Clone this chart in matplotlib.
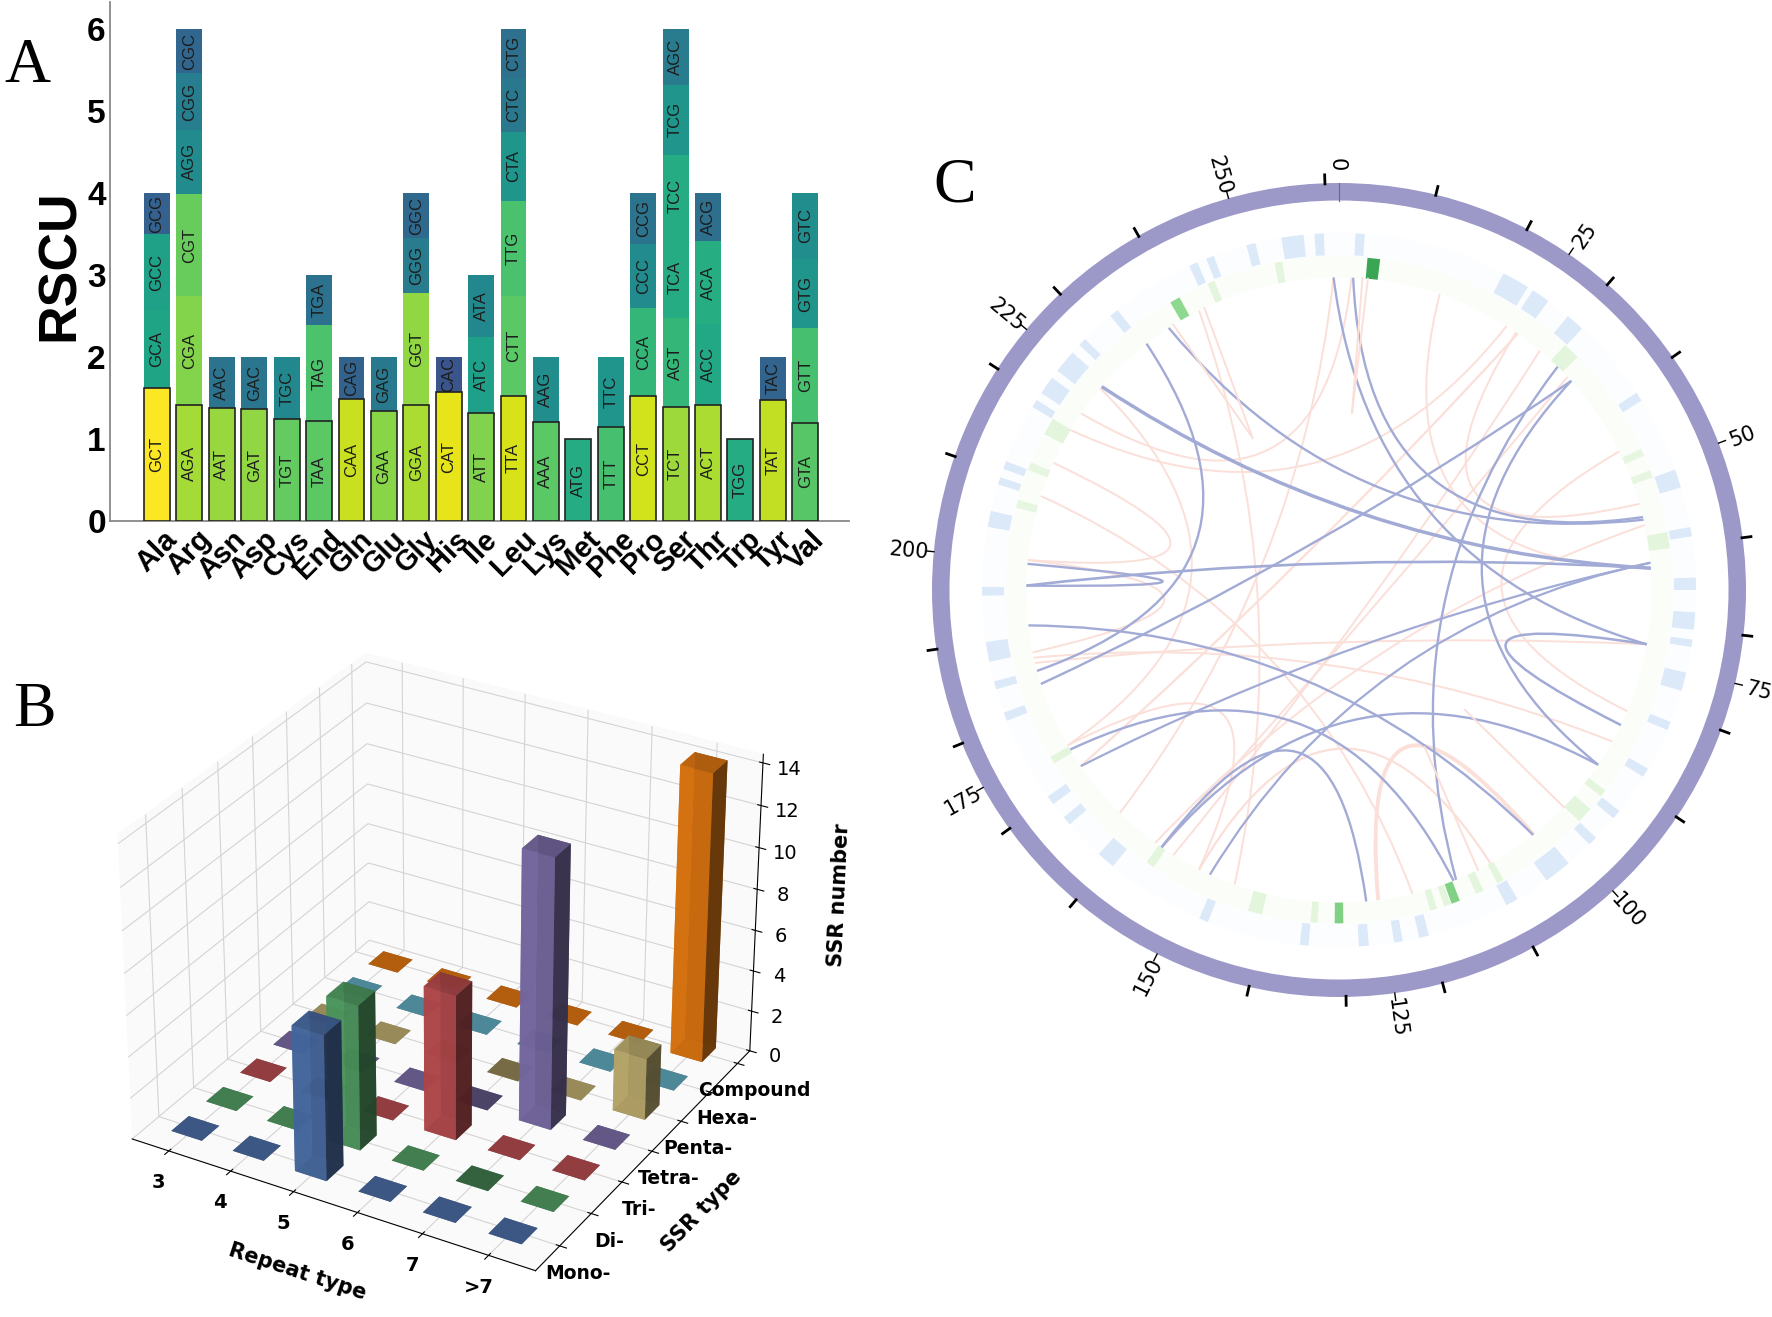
import numpy as np
import matplotlib
matplotlib.use("Agg")
import matplotlib.pyplot as plt
from matplotlib.patches import Wedge, PathPatch
from matplotlib.path import Path

W, H = 1772, 1317

# panel A: RSCU per amino acid, bottom segment first
amino = ["Ala", "Arg", "Asn", "Asp", "Cys", "End", "Gln", "Glu", "Gly", "His", "Ile",
         "Leu", "Lys", "Met", "Phe", "Pro", "Ser", "Thr", "Trp", "Tyr", "Val"]
codons = [["GCT", "GCA", "GCC", "GCG"],
          ["AGA", "CGA", "CGT", "AGG", "CGG", "CGC"],
          ["AAT", "AAC"], ["GAT", "GAC"], ["TGT", "TGC"],
          ["TAA", "TAG", "TGA"], ["CAA", "CAG"], ["GAA", "GAG"],
          ["GGA", "GGT", "GGG", "GGC"], ["CAT", "CAC"], ["ATT", "ATC", "ATA"],
          ["TTA", "CTT", "TTG", "CTA", "CTC", "CTG"], ["AAA", "AAG"], ["ATG"],
          ["TTT", "TTC"], ["CCT", "CCA", "CCC", "CCG"],
          ["TCT", "AGT", "TCA", "TCC", "TCG", "AGC"],
          ["ACT", "ACC", "ACA", "ACG"], ["TGG"], ["TAT", "TAC"],
          ["GTA", "GTT", "GTG", "GTC"]]
rscu = [[1.62, 0.95, 0.93, 0.50],
        [1.41, 1.33, 1.25, 0.78, 0.69, 0.54],
        [1.38, 0.62], [1.36, 0.64], [1.24, 0.76],
        [1.22, 1.17, 0.61], [1.49, 0.51], [1.34, 0.66],
        [1.42, 1.36, 0.67, 0.55], [1.57, 0.43], [1.32, 0.92, 0.76],
        [1.53, 1.21, 1.16, 0.85, 0.65, 0.60], [1.21, 0.79], [1.0],
        [1.15, 0.85], [1.52, 1.08, 0.78, 0.62],
        [1.39, 1.08, 1.00, 1.00, 0.85, 0.68],
        [1.42, 0.98, 1.01, 0.59], [1.0], [1.48, 0.52],
        [1.20, 1.15, 0.85, 0.80]]

# panel B: SSR counts, one row per SSR type
repeat_types = ["3", "4", "5", "6", "7", ">7"]
ssr_types = ["Mono-", "Di-", "Tri-", "Tetra-", "Penta-", "Hexa-", "Compound"]
ssr_colors = ["#4c72b0", "#55a868", "#c44e52", "#8172b2", "#ccb974", "#64b5cd", "#f07c0c"]
ssr_mono = [0, 0, 7, 0, 0, 0]
ssr_di = [0, 0, 7, 0, 0, 0]
ssr_tri = [0, 0, 0, 7, 0, 0]
ssr_tetra = [0, 0, 0, 0, 13, 0]
ssr_penta = [0, 0, 0, 0, 0, 3]
ssr_hexa = [0, 0, 0, 0, 0, 0]
ssr_compound = [0, 0, 0, 0, 0, 14]

# panel C: all angles in degrees clockwise from the top
deg_per_unit = 1.377
minor_ticks = [10, 20, 30, 40, 60, 70, 80, 90, 110, 120, 130, 140, 160, 170, 180, 190, 210, 220, 230, 240, 260]
major_ticks = [0, 25, 50, 75, 100, 125, 150, 175, 200, 225, 250]

blue_band_at = [3.4, 29.7, 34.4, 41.4, 57.2, 71.8, 80.6, 89, 95, 98.6, 104.9, 112.4, 120.8, 129, 134.7,
                142.2, 151, 166.2, 170.4, 176, 185.6, 202.3, 220.8, 229.7, 233.9, 249.2, 254.5, 260,
                269.8, 281.5, 287.8, 290.5, 301.5, 305, 309.8, 314, 320.9, 335.9, 338.8, 345.7, 352.5, 356.8]
blue_band_w = [1.5, 4.5, 3, 3, 1.5, 3, 1.5, 2, 2.8, 1.2, 3, 1.4, 1.5, 1.5, 1.5,
               4.5, 2, 1.6, 1.4, 1.6, 1.4, 1.5, 3, 1.5, 1.5, 1.4, 1.3, 3.2,
               1.4, 2.6, 1.2, 1.3, 1.3, 3, 3.8, 1.3, 1.5, 1.4, 1.3, 1.5, 3.6, 1.5]

green_band_at = [6, 349.5, 337.4, 330.5, 299.4, 291.8, 285, 239.3, 214.5, 194.6, 184.3, 180,
                 163.5, 161, 159.5, 155, 151, 132.5, 127.6, 81.4, 69.6, 65.6, 44.2]
green_band_w = [2.2, 1.3, 1.3, 1.8, 3, 1.4, 1.4, 1.3, 1.5, 2.5, 1.2, 1.5,
                1.2, 1.2, 1.5, 1.4, 1.2, 2.8, 1.3, 2.8, 1.3, 1.3, 3]
green_band_col = ["#3aa655", "#e3f5dc", "#e3f5dc", "#8ed88f", "#e3f5dc", "#e6f6e0", "#e6f6e0", "#e3f5dc",
                  "#e3f5dc", "#e3f5dc", "#e3f5dc", "#80d085", "#e3f5dc", "#e3f5dc", "#80d085", "#e3f5dc",
                  "#e3f5dc", "#e3f5dc", "#e3f5dc", "#e3f5dc", "#e6f6e0", "#e6f6e0", "#e3f5dc"]

# link ends and line widths
blue_a = [359, 2.6, 327, 310.6, 322, 48, 44.4, 48, 85, 86, 274.8, 263.5, 239.3, 214.6, 85, 100, 214.6]
blue_b = [100, 76.5, 77, 86, 255, 252.5, 158, 124, 235.7, 270.8, 270.8, 141.6, 158.5, 124, 204.4, 115.6, 175]
blue_lw = [1.7, 1.7, 1.7, 2.5, 1.7, 1.7, 1.7, 1.7, 1.6, 1.9, 1.7, 1.7, 1.7, 1.7, 1.6, 1.8, 1.7]

pink_a = [304.4, 300.8, 333.4, 310.2, 294, 275.5, 257.5, 256.5, 240.2, 235.7, 224.5, 214.5, 206.6,
          172.8, 287.5, 18.8, 63.7, 74, 78, 212]
pink_b = [2.3, 32.4, 199.5, 240.2, 275.5, 258.5, 119, 100, 206.6, 34.9, 359, 47, 151,
          141.5, 166.4, 86, 112.8, 34.5, 216, 40]
pink_lw = [1.4, 1.4, 1.4, 1.4, 1.4, 1.4, 1.4, 1.4, 1.4, 1.6, 1.4, 1.4, 1.6,
           2.8, 1.4, 1.4, 1.4, 1.4, 1.4, 1.4]
# short pink strokes that stop inside the circle
stub_a = [4.3, 5.3, 328, 334.5, 134, 153.6]
stub_b = [4.2, 4.2, 330.4, 330.4, 133.6, 151.4]
stub_r = [0.436, 0.436, 0.43, 0.43, 0.427, 0.44]


def px_rect(left, top, right, bottom):
    return [left / W, 1 - bottom / H, (right - left) / W, (bottom - top) / H]


def polar_xy(angle, r):
    t = np.radians(angle)
    return r * np.sin(t), r * np.cos(t)


def draw_link(ax, a, b, color, lw, r_link=0.768, r_ctrl=0.1):
    # quadratic bezier, control point close to the centre on the short side
    mid = a + ((b - a + 180) % 360 - 180) / 2
    verts = [polar_xy(a, r_link), polar_xy(mid, r_ctrl), polar_xy(b, r_link)]
    path = Path(verts, [Path.MOVETO, Path.CURVE3, Path.CURVE3])
    ax.add_patch(PathPatch(path, fc="none", ec=color, lw=lw, capstyle="butt"))


def band(ax, angle, width, r_out, r_in, color):
    # Wedge angles are counterclockwise from east
    ax.add_patch(Wedge((0, 0), r_out, 90 - angle - width / 2, 90 - angle + width / 2,
                       width=r_out - r_in, fc=color, ec="none"))


fig = plt.figure(figsize=(W / 100, H / 100), dpi=100)

# ---- panel A
ax_a = fig.add_axes(px_rect(110, 2, 849, 521))
for i, (names, vals) in enumerate(zip(codons, rscu)):
    bottom = 0
    for j, (name, v) in enumerate(zip(names, vals)):
        col = plt.cm.viridis(min(v / 1.63, 1.0))
        ax_a.bar(i, v, 0.8, bottom=bottom, color=col,
                 edgecolor="#222222" if j == 0 else "none", linewidth=1.2, zorder=3 if j == 0 else 2)
        ax_a.text(i, bottom + v / 2, name, rotation=90, ha="center", va="center",
                  fontsize=12, family="Liberation Sans", color="#1c1c1c", zorder=4)
        bottom += v
ax_a.set_xlim(-1.45, 21.35)
ax_a.set_ylim(0, 6.33)
ax_a.set_xticks(range(len(amino)))
ax_a.set_xticklabels(amino, rotation=45, fontsize=21, fontweight="bold", family="Liberation Sans")
ax_a.set_yticks(range(7))
ax_a.set_yticklabels(range(7), fontsize=24, fontweight="bold", family="Liberation Sans")
ax_a.tick_params(axis="x", length=0, pad=3)
ax_a.tick_params(axis="y", length=0, pad=3)
for s in ["top", "right"]:
    ax_a.spines[s].set_visible(False)
for s in ["left", "bottom"]:
    ax_a.spines[s].set_color("#888888")
    ax_a.spines[s].set_linewidth(1.3)
fig.text(60 / W, 1 - 265 / H, "RSCU", rotation=90, ha="center", va="center",
         fontsize=38.5, fontweight="bold", family="Liberation Sans")

# ---- panel B
ax_b = fig.add_axes(px_rect(78, 598, 796, 1316), projection="3d")
ssr_rows = [ssr_mono, ssr_di, ssr_tri, ssr_tetra, ssr_penta, ssr_hexa, ssr_compound]
xs, ys, zs, cols = [], [], [], []
for row, (vals, col) in enumerate(zip(ssr_rows, ssr_colors)):
    for k, v in enumerate(vals):
        xs.append(k)
        ys.append(row)
        zs.append(v)
        cols.append(col)
ax_b.bar3d(xs, ys, np.zeros(len(xs)), 0.5, 0.5, zs, color=cols, alpha=0.85)
ax_b.set_xlim(-0.35, 5.95)
ax_b.set_ylim(-0.5, 6.7)
ax_b.set_zlim(0, 14.4)
ax_b.set_xticks(np.arange(6) + 0.25)
ax_b.set_xticklabels(repeat_types, fontsize=14, fontweight="bold")
ax_b.set_yticks(np.arange(7) + 0.25)
ax_b.set_yticklabels(ssr_types, fontsize=13.5, fontweight="bold")
ax_b.set_zticks(range(0, 15, 2))
ax_b.tick_params(axis="z", labelsize=14)
ax_b.set_xlabel("Repeat type", fontsize=15, fontweight="bold", labelpad=14)
ax_b.set_ylabel("SSR type", fontsize=15, fontweight="bold", labelpad=15)
ax_b.set_zlabel("SSR number", fontsize=15, fontweight="bold", labelpad=16)
for axis in [ax_b.xaxis, ax_b.yaxis, ax_b.zaxis]:
    axis.set_pane_color((0.98, 0.98, 0.98, 1.0))
    axis._axinfo["grid"]["color"] = "#d4d4d4"

# ---- panel C, unit circle = 407 px
ax_c = fig.add_axes(px_rect(1339 - 440, 590 - 440, 1339 + 440, 590 + 440))
ax_c.set_xlim(-440 / 407, 440 / 407)
ax_c.set_ylim(-440 / 407, 440 / 407)
ax_c.axis("off")

ax_c.add_patch(Wedge((0, 0), 1.0, 0, 360, width=0.043, fc="#9c99c9", ec="none"))
ax_c.add_patch(Wedge((0, 0), 0.877, 0, 360, width=0.057, fc="#fbfdff", ec="none"))
ax_c.add_patch(Wedge((0, 0), 0.82, 0, 360, width=0.052, fc="#fbfef8", ec="none"))
for at, w in zip(blue_band_at, blue_band_w):
    band(ax_c, at, w, 0.877, 0.823, "#dce9f9")
for at, w, col in zip(green_band_at, green_band_w, green_band_col):
    band(ax_c, at, w, 0.819, 0.768, col)

for a, b, lw in zip(pink_a, pink_b, pink_lw):
    draw_link(ax_c, a, b, "#fbdfd9", lw)
for a, b, r in zip(stub_a, stub_b, stub_r):
    ax_c.plot(*zip(polar_xy(a, 0.768), polar_xy(b, r)), color="#fbdfd9", lw=1.4)
for a, b, lw in zip(blue_a, blue_b, blue_lw):
    draw_link(ax_c, a, b, "#a2abd6", lw)

for t in minor_ticks:
    ang = t * deg_per_unit
    ax_c.plot(*zip(polar_xy(ang, 0.995), polar_xy(ang, 1.024)), color="black", lw=2, solid_capstyle="butt")
for t in major_ticks:
    ang = t * deg_per_unit
    if t == 0:
        ax_c.plot(*zip(polar_xy(0, 0.957), polar_xy(0, 1.0)), color="#666688", lw=0.8)
        ax_c.text(*polar_xy(0, 1.045), "0", rotation=-90, rotation_mode="anchor",
                  ha="center", va="center_baseline", fontsize=15)
        continue
    ax_c.plot(*zip(polar_xy(ang, 1.0), polar_xy(ang, 1.018)), color="black", lw=1)
    rot = 90 - ang
    if ang > 180:
        rot += 180
    ax_c.text(*polar_xy(ang, 1.06), str(t), rotation=rot, rotation_mode="anchor",
              ha="center", va="center_baseline", fontsize=15)

# panel letters
for letter, x, y in [("A", 27, 67), ("B", 34, 711), ("C", 955, 186)]:
    fig.text(x / W, 1 - y / H, letter, fontsize=46, family="Liberation Serif", ha="center", va="center")

fig.savefig("out.png", dpi=100)
